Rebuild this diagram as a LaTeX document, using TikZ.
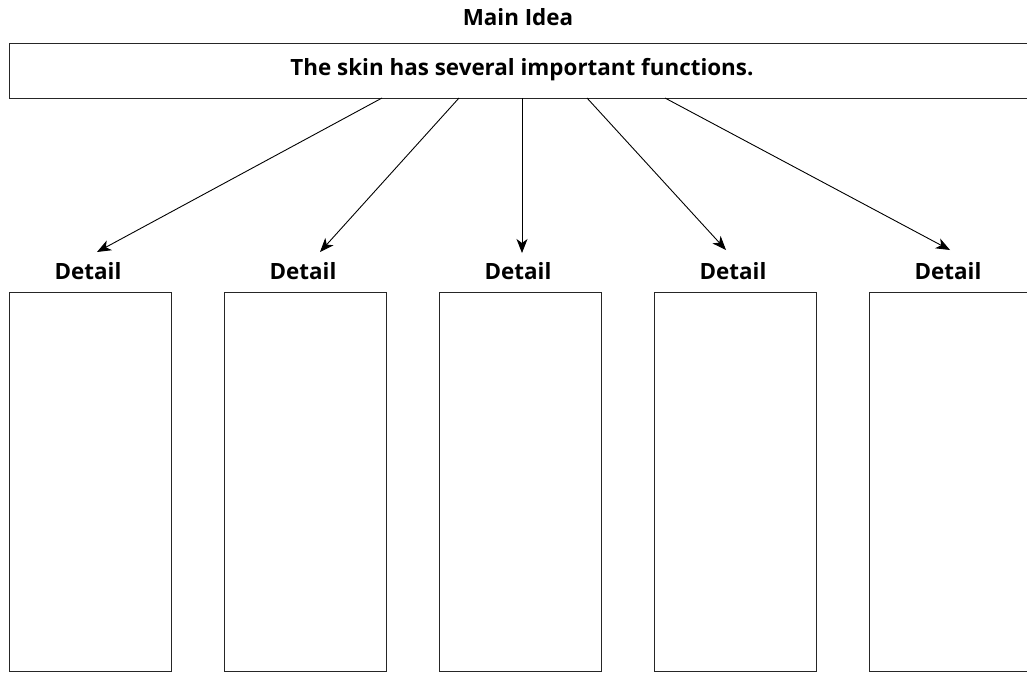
\documentclass[tikz,border=0pt]{standalone}
\usepackage{fontspec}
\setmainfont{Open Sans}
\usetikzlibrary{arrows.meta,calc}
\begin{document}
\begin{tikzpicture}[x=1pt,y=-1pt,
  box/.style={draw=black!85, line width=1.1pt, inner sep=0pt, anchor=north west, fill=none},
  lbl/.style={font=\bfseries\fontsize{22.4}{26}\selectfont, inner sep=0pt, text=black},
  arr/.style={draw=black, line width=0.9pt, -{Stealth[length=14pt,width=11pt,inset=4pt]}}]
\useasboundingbox (0,0) rectangle (1027,672);
\clip (0,0) rectangle (1027,672);
\node[lbl] (mainidea) at (518,17) {Main Idea};
\node[box, minimum width=1026pt, minimum height=55pt] (main) at (9,43) {};
\node[lbl] (maintext) at (522,70) {The skin has several important functions.};
\foreach \i/\x in {1/9,2/224,3/439,4/654,5/869}{
  \node[box, minimum width=162pt, minimum height=379pt] (d\i) at (\x,292) {};
  \node[lbl] (l\i) at ($(\x,271)+(79,0)$) {Detail};
}
\coordinate (s1) at (382,98);
\coordinate (s2) at (459,98);
\coordinate (s3) at (522,98);
\coordinate (s4) at (587,98);
\coordinate (s5) at (665,98);
\coordinate (t1) at (97,252);
\coordinate (t2) at (320,252);
\coordinate (t3) at (522,253);
\coordinate (t4) at (726,250);
\coordinate (t5) at (950,250);
\foreach \i in {1,...,5}{\draw[arr] (s\i) -- (t\i);}
\end{tikzpicture}
\end{document}
